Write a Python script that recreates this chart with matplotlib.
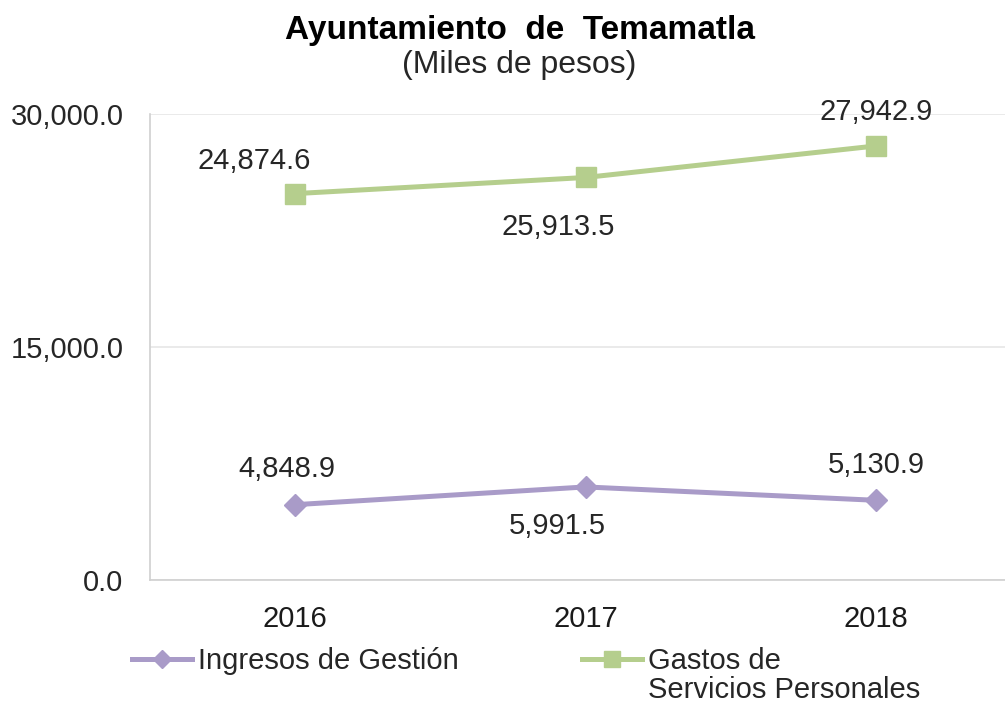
import matplotlib
matplotlib.use("Agg")
import matplotlib.pyplot as plt
from matplotlib.lines import Line2D

plt.rcParams['font.family'] = ['Liberation Sans', 'DejaVu Sans']

years = ['2016', '2017', '2018']
ingresos = [4848.9, 5991.5, 5130.9]
gastos = [24874.6, 25913.5, 27942.9]
yticks = [0.0, 15000.0, 30000.0]

purple = '#A99BC8'
green = '#B5CE8D'
text_col = '#262626'

fig = plt.figure(figsize=(10.05, 7.04), dpi=100)
ax = fig.add_axes([150 / 1005, 124 / 704, 871 / 1005, 466 / 704])

x = range(len(years))
ax.plot(x, ingresos, color=purple, lw=3.6, marker='D', ms=11)
ax.plot(x, gastos, color=green, lw=3.6, marker='s', ms=15)

# label offsets in pixels (dx, dy)
ing_off = [(-8, 36), (-28, -39), (0, 35)]
gas_off = [(-41, 33), (-27, -50), (0, 34)]
for i in x:
    ax.annotate(f'{ingresos[i]:,.1f}', (i, ingresos[i]), xytext=ing_off[i],
                textcoords='offset pixels', ha='center', va='center',
                fontsize=21, color=text_col)
    ax.annotate(f'{gastos[i]:,.1f}', (i, gastos[i]), xytext=gas_off[i],
                textcoords='offset pixels', ha='center', va='center',
                fontsize=21, color=text_col)

ax.set_xlim(-0.5, 2.5)
ax.set_ylim(0, 30000)
ax.set_xticks(list(x))
ax.set_xticklabels(years, fontsize=21, color='#1a1a1a')
ax.set_yticks(yticks)
ax.set_yticklabels([f'{v:,.1f}' for v in yticks], fontsize=21, color=text_col)
ax.tick_params(length=0)
ax.tick_params(axis='y', pad=19)
ax.tick_params(axis='x', pad=18)
ax.grid(axis='y', color='#E6E6E6', lw=1.2)
ax.set_axisbelow(True)
for s in ['top', 'right']:
    ax.spines[s].set_visible(False)
for s in ['left', 'bottom']:
    ax.spines[s].set_color('#D0D0D0')
    ax.spines[s].set_linewidth(1.2)

fig.text(0.517, 0.957, 'Ayuntamiento  de  Temamatla', ha='center', va='center',
         fontsize=24, fontweight='bold', color='black')
fig.text(0.517, 0.907, '(Miles de pesos)', ha='center', va='center',
         fontsize=23, color=text_col)

# legend: two entries placed separately, second label wraps below its first line
leg_kw = dict(loc='center left', frameon=False, fontsize=21, handlelength=2.07,
              handletextpad=0.2, borderpad=0, borderaxespad=0, labelcolor=text_col)
h1 = Line2D([], [], color=purple, lw=3.6, marker='D', ms=9)
h2 = Line2D([], [], color=green, lw=3.6, marker='s', ms=12)
fig.legend([h1], ['Ingresos de Gestión'], bbox_to_anchor=(132 / 1005, 1 - 661 / 704), **leg_kw)
fig.legend([h2], ['Gastos de'], bbox_to_anchor=(582 / 1005, 1 - 661 / 704), **leg_kw)
fig.text(648 / 1005, 1 - 690 / 704, 'Servicios Personales', ha='left', va='center',
         fontsize=21, color=text_col)

fig.savefig('out.png', dpi=100, facecolor='white')
